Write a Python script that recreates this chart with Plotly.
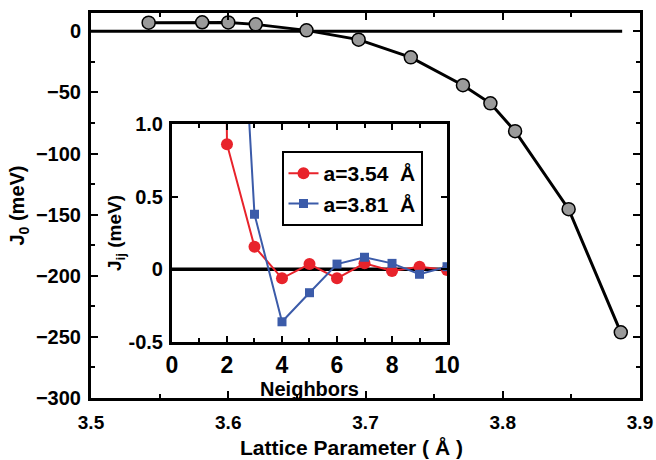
import plotly.graph_objects as go

# Main panel: J0 vs lattice parameter
lattice = [3.542, 3.581, 3.600, 3.620, 3.657, 3.695, 3.733, 3.771, 3.791, 3.809, 3.848, 3.886]
j0 = [7.1, 7.4, 7.3, 5.7, 0.8, -6.8, -21.3, -44.1, -58.9, -81.7, -145.5, -246.3]
zero_line_x = [3.5, 3.887]
zero_line_y = [0, 0]
main_yticks = [0, -50, -100, -150, -200, -250, -300]

# Inset: Jij vs neighbors
neighbors = [1, 2, 3, 4, 5, 6, 7, 8, 9, 10]
jij_354 = [20.0, 0.861, 0.156, -0.062, 0.036, -0.062, 0.041, -0.012, 0.018, -0.005]
jij_381 = [20.0, 3.7, 0.379, -0.361, -0.161, 0.036, 0.083, 0.041, -0.034, 0.018]
inset_zero_x = [0, 10]
inset_zero_y = [0, 0]
inset_yticks = [-0.5, 0, 0.5, 1.0]
inset_yticklabels = ["-0.5", "0", "0.5", "1.0"]

FONT = "Liberation Sans"
RED = "#e8232b"
BLUE = "#3b5ba9"

fig = go.Figure()

fig.add_trace(go.Scatter(x=zero_line_x, y=zero_line_y, mode="lines",
                         line=dict(color="black", width=3), showlegend=False,
                         xaxis="x", yaxis="y"))
fig.add_trace(go.Scatter(x=lattice, y=j0, mode="lines+markers",
                         line=dict(color="black", width=3),
                         marker=dict(size=13, color="#9a9a9a", line=dict(color="black", width=1.5)),
                         showlegend=False, xaxis="x", yaxis="y"))

fig.add_trace(go.Scatter(x=inset_zero_x, y=inset_zero_y, mode="lines",
                         line=dict(color="black", width=3.5), showlegend=False,
                         xaxis="x2", yaxis="y2"))
fig.add_trace(go.Scatter(x=neighbors, y=jij_354, mode="lines+markers",
                         name="<b>a=3.54  Å</b>",
                         line=dict(color=RED, width=2),
                         marker=dict(symbol="circle", size=12, color=RED),
                         xaxis="x2", yaxis="y2"))
fig.add_trace(go.Scatter(x=neighbors, y=jij_381, mode="lines+markers",
                         name="<b>a=3.81  Å</b>",
                         line=dict(color=BLUE, width=2),
                         marker=dict(symbol="square", size=9, color=BLUE),
                         xaxis="x2", yaxis="y2"))

axis_common = dict(showline=True, linecolor="black", mirror="ticks", automargin=False,
                   ticks="inside", tickcolor="black", showgrid=False, zeroline=False)

def bf(size):
    return dict(size=size, family=FONT, weight="bold", color="black")

fig.update_layout(
    width=656, height=460,
    margin=dict(l=91, r=16, t=13, b=62, autoexpand=False),
    paper_bgcolor="white", plot_bgcolor="white",
    font=dict(family=FONT, color="black", weight="bold"),
    xaxis=dict(**axis_common, domain=[0, 1], range=[3.5, 3.9], dtick=0.1,
               tickformat=".1f", linewidth=3, tickwidth=2, ticklen=7,
               minor=dict(dtick=0.05, ticks="inside", ticklen=4, tickwidth=2, tickcolor="black"),
               tickfont=bf(19), ticklabelstandoff=5),
    yaxis=dict(**axis_common, domain=[0, 1], range=[-300, 15], tickvals=main_yticks,
               linewidth=3, tickwidth=2, ticklen=7,
               minor=dict(dtick=25, ticks="inside", ticklen=4, tickwidth=2, tickcolor="black"),
               tickfont=bf(20), ticklabelstandoff=3,
               title=dict(text="<b>J<sub>0</sub> (meV)</b>", font=bf(20), standoff=6)),
    yaxis3=dict(overlaying="y", anchor="x", range=[-300, 15], tickvals=main_yticks, ticks="outside",
                ticklen=5, tickwidth=2, tickcolor="black", showticklabels=False, automargin=False,
                showline=False, showgrid=False, zeroline=False),
    xaxis2=dict(**axis_common, domain=[0.1475, 0.6485], anchor="y2", range=[0, 10], dtick=2,
                linewidth=3, tickwidth=2, ticklen=6,
                minor=dict(dtick=1, ticks="inside", ticklen=4, tickwidth=2, tickcolor="black"),
                tickfont=bf(23), ticklabelstandoff=0,
                title=dict(text="<b>Neighbors</b>", font=bf(20), standoff=0)),
    yaxis2=dict(**axis_common, domain=[0.1455, 0.7117], anchor="x2", range=[-0.5, 1.0],
                tickvals=inset_yticks, ticktext=inset_yticklabels,
                linewidth=3, tickwidth=2, ticklen=6,
                tickfont=bf(20), ticklabelstandoff=2,
                title=dict(text="<b>J<sub>ij</sub> (meV)</b>", font=bf(19), standoff=2)),
    legend=dict(x=0.347, y=0.6416, xanchor="left", yanchor="top",
                bgcolor="white", bordercolor="black", borderwidth=2,
                font=bf(21), itemwidth=30, tracegroupgap=0),
    annotations=[dict(text="<b>Lattice Parameter ( Å )</b>", xref="paper", yref="paper",
                      x=0.4736, y=-0.129, xanchor="center", yanchor="middle",
                      showarrow=False, font=bf(21))],
)

fig.write_html("out.html")
